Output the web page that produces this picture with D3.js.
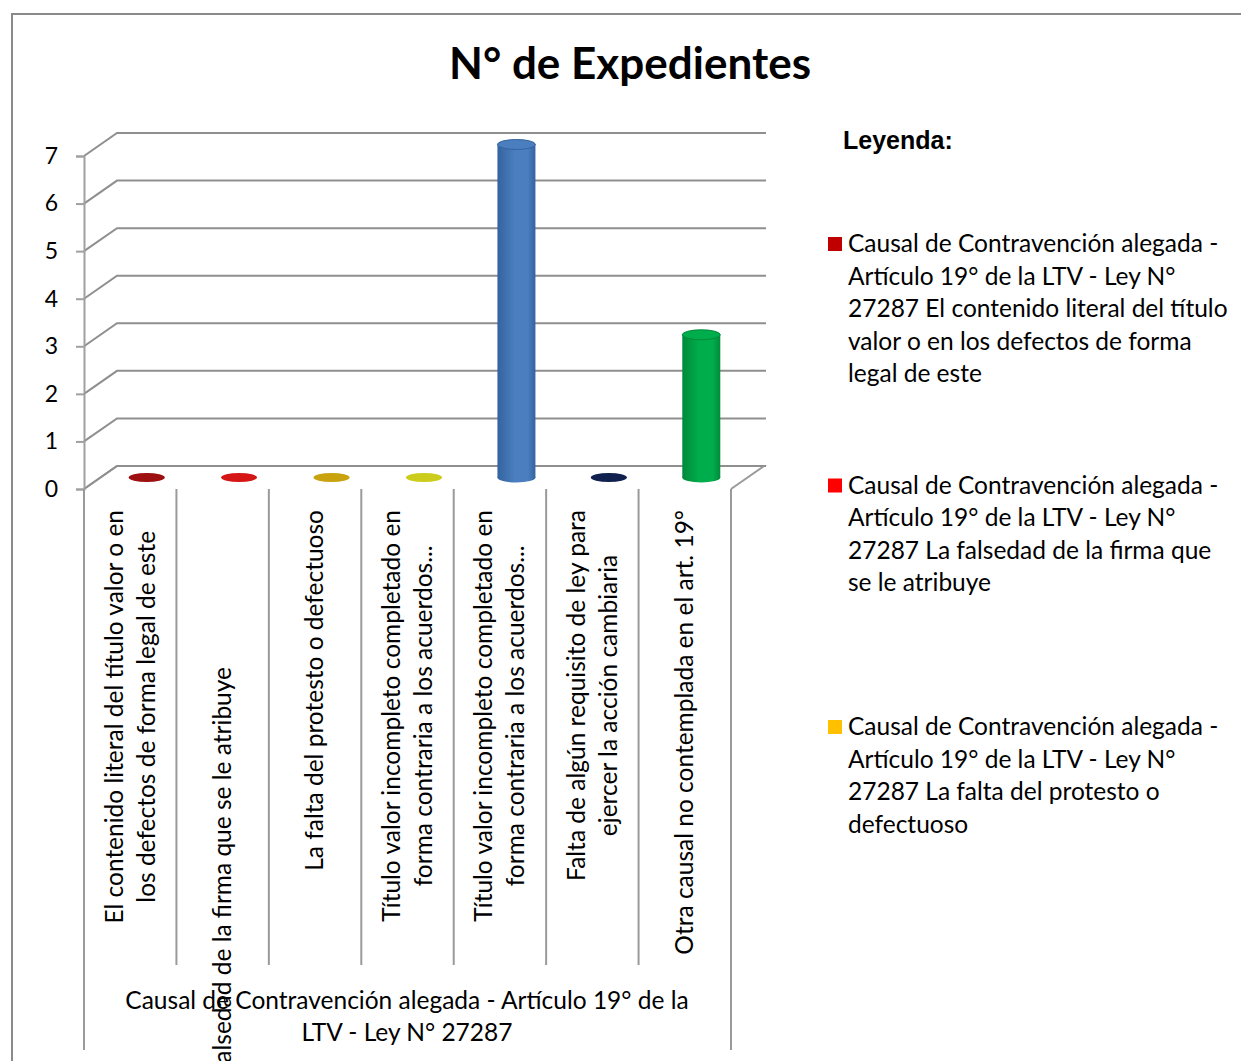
<!DOCTYPE html>
<html>
<head>
<meta charset="utf-8">
<script src="https://cdn.jsdelivr.net/npm/d3@7"></script>
<style>
  body { margin: 0; background: #fff; }
  text { font-family: Lato, "Open Sans", sans-serif; fill: #000; }
</style>
</head>
<body>
<div id="chart"></div>
<script>
const W = 1241, H = 1061;

// data
const categories = ["c1", "c2", "c3", "c4", "c5", "c6", "c7"];
const catLabels = [
  ["El contenido literal del título valor o en", "los defectos de forma legal de este"],
  ["La falsedad de la firma que se le atribuye"],
  ["La falta del protesto o defectuoso"],
  ["Título valor incompleto completado en", "forma contraria a los acuerdos..."],
  ["Título valor incompleto completado en", "forma contraria a los acuerdos..."],
  ["Falta de algún requisito de ley para", "ejercer la acción cambiaria"],
  ["Otra causal no contemplada en el art. 19°"]
];
const values = [0, 0, 0, 0, 7, 0, 3];
const barColors = ["#9e0f0f", "#d61515", "#c9a210", "#cccc1c", "#4a7ebf", "#10204f", "#00ad4c"];
const barDark = ["#7a0808", "#a80d0d", "#a08008", "#a8a810", "#34639f", "#0a1538", "#008a3a"];
const yTicks = [0, 1, 2, 3, 4, 5, 6, 7];
const groupLabel = ["Causal de Contravención alegada - Artículo 19° de la", "LTV - Ley N° 27287"];
const legendLabels = [
  ["Causal de Contravención alegada -", "Artículo 19° de la LTV - Ley N°", "27287 El contenido literal del título", "valor o en los defectos de forma", "legal de este"],
  ["Causal de Contravención alegada -", "Artículo 19° de la LTV - Ley N°", "27287 La falsedad de la firma que", "se le atribuye"],
  ["Causal de Contravención alegada -", "Artículo 19° de la LTV - Ley N°", "27287 La falta del protesto o", "defectuoso"]
];
const legendColors = ["#c00000", "#ff0000", "#ffc000"];

const svg = d3.select("#chart").append("svg")
  .attr("width", W)
  .attr("height", H);

// outer frame
svg.append("path")
  .attr("d", "M12,1061 V14 H1241")
  .attr("fill", "none")
  .attr("stroke", "#8a8a8a")
  .attr("stroke-width", 2);

// title
svg.append("text")
  .attr("x", 630).attr("y", 79)
  .attr("text-anchor", "middle")
  .style("font-size", "44px")
  .style("font-weight", "bold")
  .text("N° de Expedientes");

const x = d3.scaleBand().domain(categories).range([84, 731]).padding(0);
const y = d3.scaleLinear().domain([0, 7]).range([489, 156]);
const dx = 33, dy = -23; // depth offset of back wall

const grid = svg.append("g");
// floor
grid.append("path")
  .attr("d", `M84,${y(0)} L${84 + dx},${y(0) + dy} L${731 + dx},${y(0) + dy} L731,${y(0)}`)
  .attr("fill", "none")
  .attr("stroke", "#9a9a9a")
  .attr("stroke-width", 2);

// gridlines on side + back wall
yTicks.forEach(t => {
  grid.append("path")
    .attr("d", `M84,${y(t)} L${84 + dx},${y(t) + dy} H${731 + dx + 2}`)
    .attr("fill", "none")
    .attr("stroke", "#8f8f8f")
    .attr("stroke-width", 2);
});

// y axis
const yAxis = svg.append("g")
  .attr("transform", "translate(84,0)")
  .call(d3.axisLeft(y).tickValues(yTicks).tickSize(8).tickPadding(18).tickFormat(d3.format("d")));
yAxis.select(".domain").attr("stroke", "#a0a0a0").attr("stroke-width", 2);
yAxis.selectAll(".tick line").attr("stroke", "#a0a0a0").attr("stroke-width", 2);
yAxis.selectAll(".tick text")
  .style("font-size", "23px")
  .style("font-family", "Lato, sans-serif")
  .attr("fill", "#000");

// gradients for cylinders
const defs = svg.append("defs");
categories.forEach((c, i) => {
  const g = defs.append("linearGradient")
    .attr("id", "grad" + i)
    .attr("x1", 0).attr("x2", 1).attr("y1", 0).attr("y2", 0);
  g.append("stop").attr("offset", "0%").attr("stop-color", barDark[i]);
  g.append("stop").attr("offset", "45%").attr("stop-color", barColors[i]);
  g.append("stop").attr("offset", "80%").attr("stop-color", barColors[i]);
  g.append("stop").attr("offset", "100%").attr("stop-color", barDark[i]);
});

// bars (cylinders) sitting half way into the depth
const rx = 19, ry = 5;
const bars = svg.append("g");
categories.forEach((c, i) => {
  const cx = x(c) + x.bandwidth() / 2 + dx / 2;
  const yb = y(0) + dy / 2;
  const yt = y(values[i]) + dy / 2;
  if (values[i] > 0) {
    bars.append("ellipse")
      .attr("cx", cx).attr("cy", yb).attr("rx", rx).attr("ry", ry)
      .attr("fill", `url(#grad${i})`);
    bars.append("rect")
      .attr("x", cx - rx).attr("y", yt)
      .attr("width", rx * 2).attr("height", yb - yt)
      .attr("fill", `url(#grad${i})`);
    bars.append("ellipse")
      .attr("cx", cx).attr("cy", yt).attr("rx", rx).attr("ry", ry)
      .attr("fill", barColors[i])
      .attr("stroke", barDark[i])
      .attr("stroke-width", 1);
  } else {
    bars.append("ellipse")
      .attr("cx", cx).attr("cy", yb).attr("rx", rx - 1).attr("ry", ry - 0.5)
      .attr("fill", barColors[i]);
  }
});

// category dividers
const div = svg.append("g");
d3.range(categories.length + 1).forEach(k => {
  const xx = k < categories.length ? x(categories[k]) : 731;
  const outer = k === 0 || k === categories.length;
  div.append("line")
    .attr("x1", xx).attr("x2", xx)
    .attr("y1", y(0)).attr("y2", outer ? 1050 : 965)
    .attr("stroke", "#9a9a9a")
    .attr("stroke-width", 2);
});

// category labels, rotated
const labelTop = 510, lineH = 32, fs = 24.5;
const labelShift = { 1: 157 }; // Excel pushed this overflowing one down
catLabels.forEach((lines, i) => {
  const cx = x(categories[i]) + x.bandwidth() / 2;
  const top = labelTop + (labelShift[i] || 0);
  const g = svg.append("g").attr("transform", `translate(0,${top}) rotate(-90)`);
  const texts = lines.map((ln, j) => g.append("text")
    .attr("y", cx + (j - (lines.length - 1) / 2) * lineH + fs * 0.34)
    .style("font-size", fs + "px")
    .text(ln));
  const maxW = d3.max(texts, t => t.node().getComputedTextLength());
  texts.forEach(t => t.attr("x", -maxW / 2).attr("text-anchor", "middle"));
});

// group label
groupLabel.forEach((ln, j) => {
  svg.append("text")
    .attr("x", 407).attr("y", 1009 + j * 32)
    .attr("text-anchor", "middle")
    .style("font-size", "24.5px")
    .text(ln);
});

// legend
svg.append("text")
  .attr("x", 843).attr("y", 149)
  .style("font-family", "'Liberation Sans', Arial, sans-serif")
  .style("font-size", "25px")
  .style("font-weight", "bold")
  .text("Leyenda:");

const legendStart = 252, legendStep = 241.5, legendLine = 32.5;
legendLabels.forEach((lines, i) => {
  const by = legendStart + i * legendStep;
  svg.append("rect")
    .attr("x", 828).attr("y", by - 15)
    .attr("width", 14).attr("height", 14)
    .attr("fill", legendColors[i]);
  lines.forEach((ln, j) => {
    svg.append("text")
      .attr("x", 848).attr("y", by + j * legendLine)
      .style("font-size", "24.5px")
      .text(ln);
  });
});
</script>
</body>
</html>
